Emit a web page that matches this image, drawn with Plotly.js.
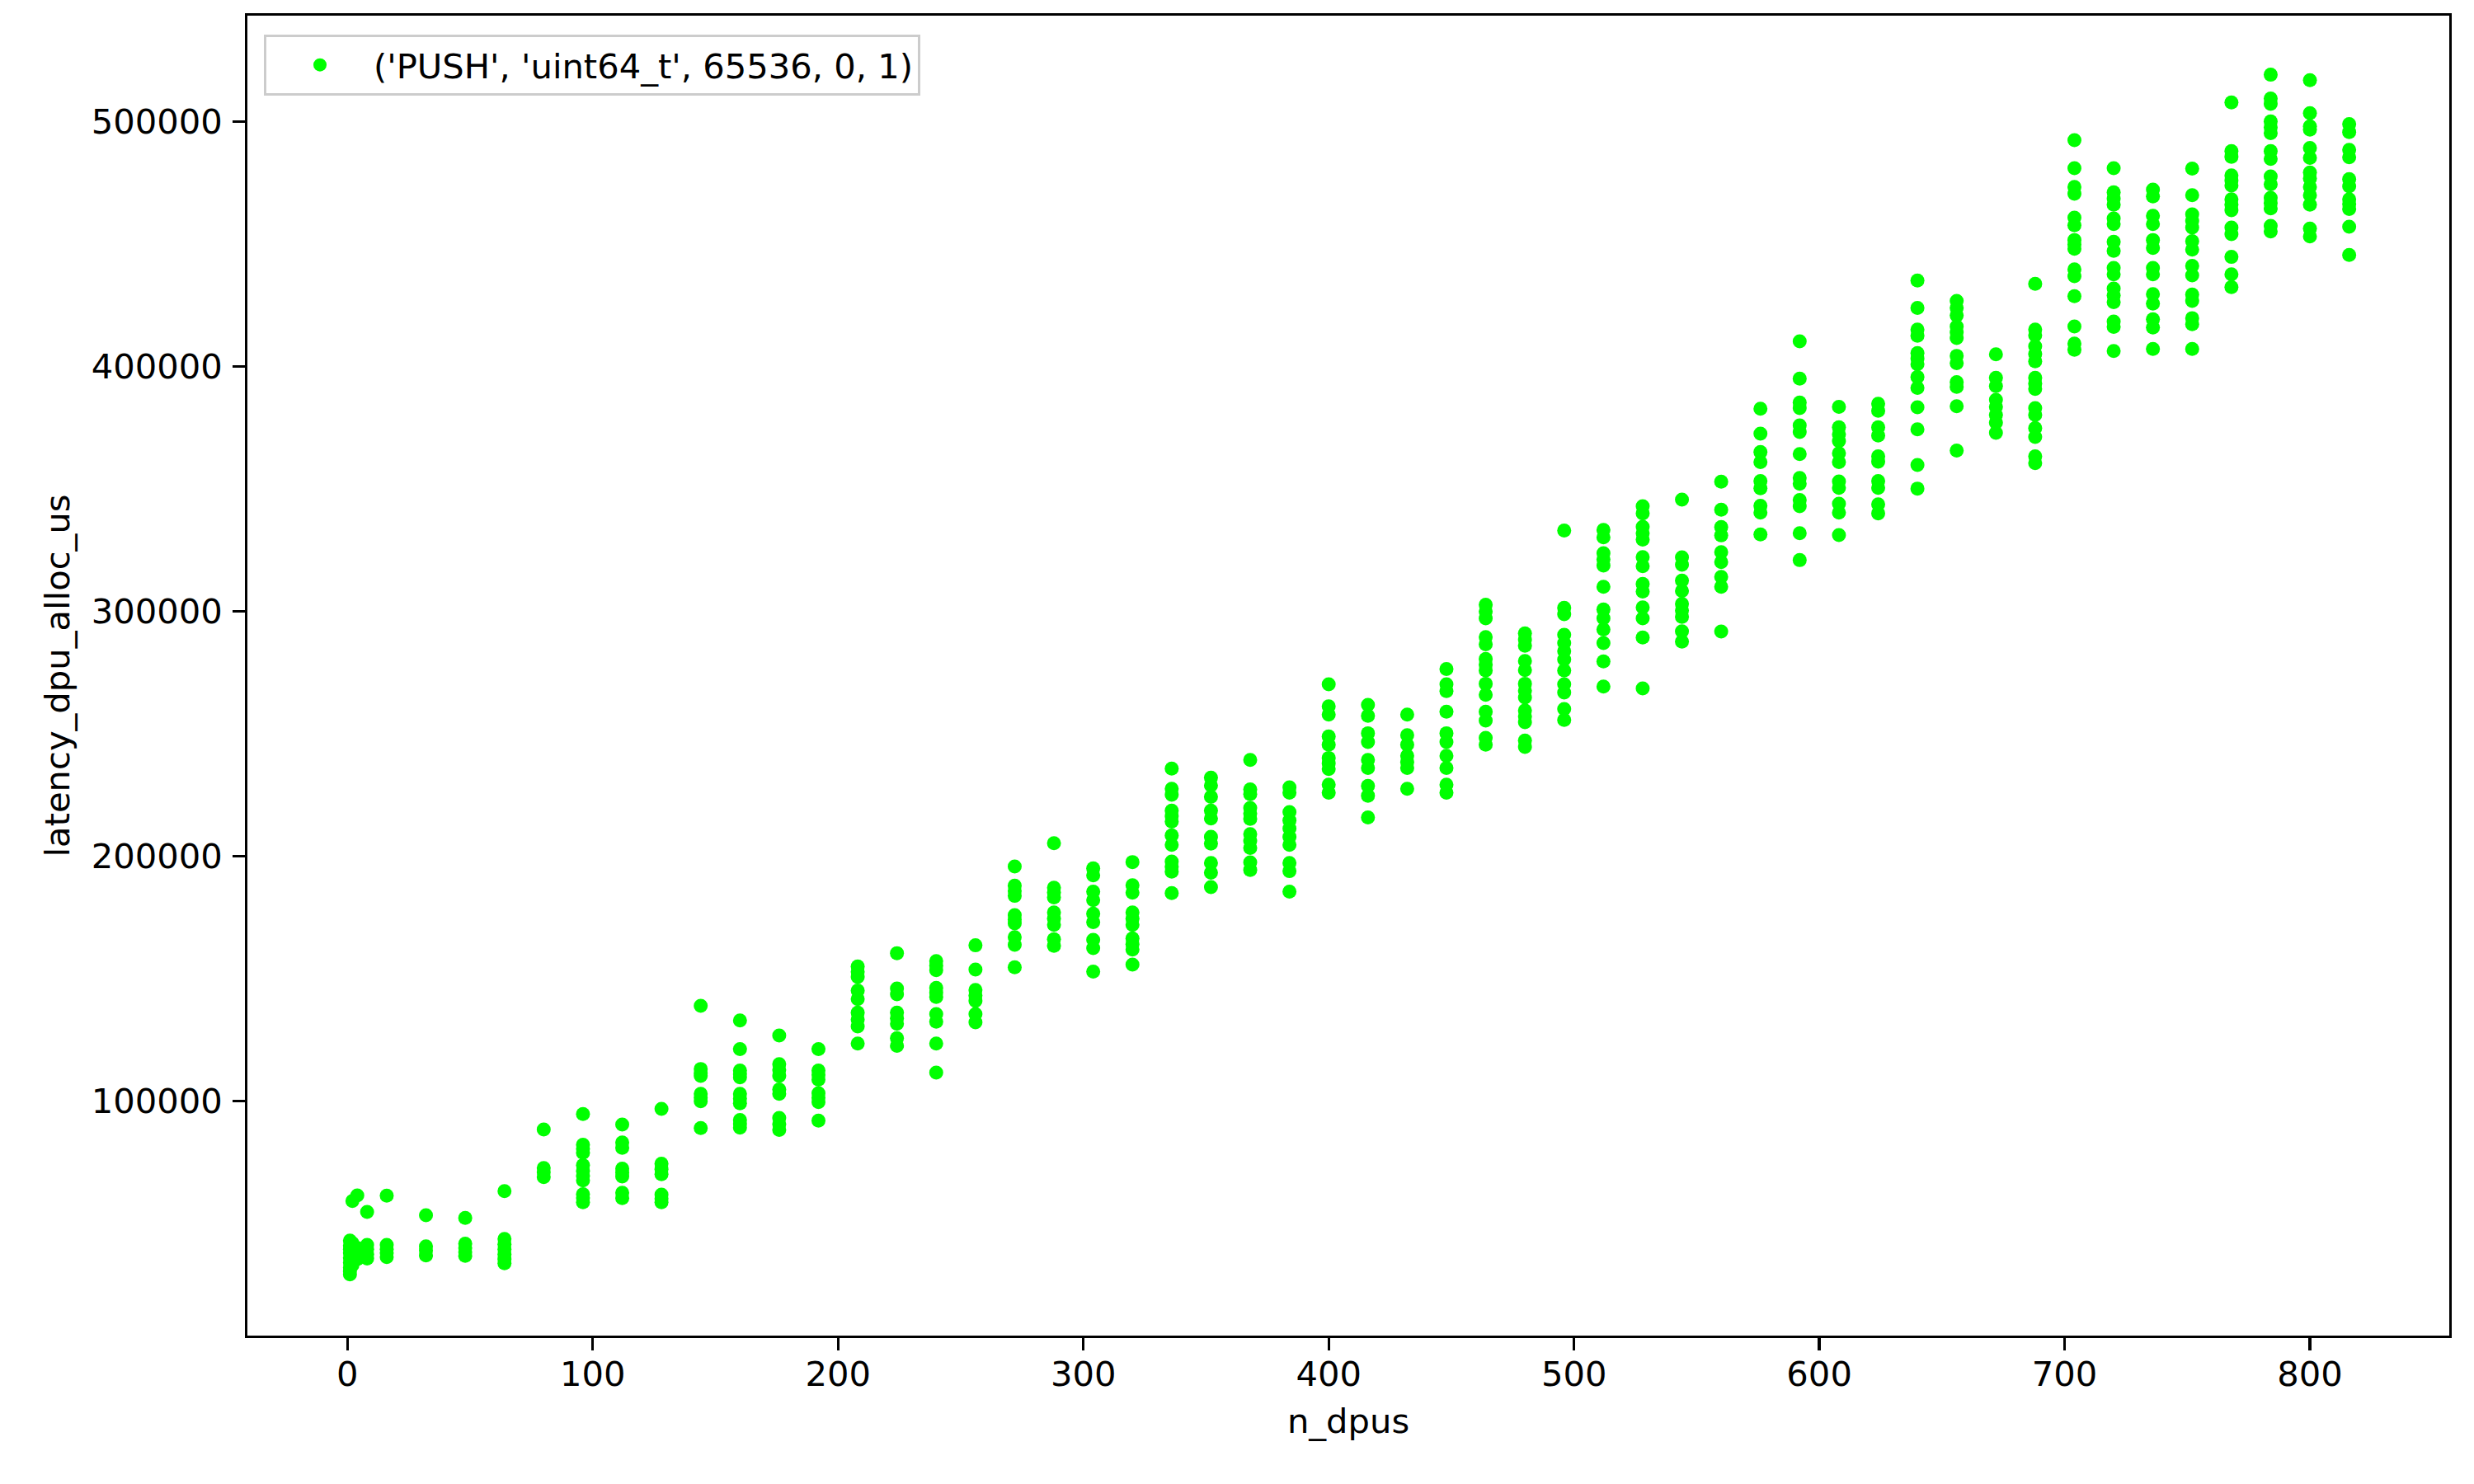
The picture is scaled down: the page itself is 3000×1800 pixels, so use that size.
<!DOCTYPE html>
<html>
<head>
<meta charset="utf-8">
<script src="https://cdn.plot.ly/plotly-3.0.1.min.js"></script>
<style>html,body{margin:0;padding:0;background:#fff;}#chart{width:3000px;height:1800px;}</style>
</head>
<body>
<div id="chart"></div>
<script>
// n_dpus categories (x values), one per column of points
const nDpus = [1, 2, 4, 8, 16, 32, 48, 64, 80, 96, 112, 128, 144, 160, 176, 192, 208, 224, 240, 256,
  272, 288, 304, 320, 336, 352, 368, 384, 400, 416, 432, 448, 464, 480, 496, 512, 528, 544, 560,
  576, 592, 608, 624, 640, 656, 672, 688, 704, 720, 736, 752, 768, 784, 800, 816];

const latencyUs = [
  [43000, 41000, 39500, 38000, 36000, 34000, 32000, 30500, 29200],
  [59200, 42000, 38500, 35000, 33000],
  [61500, 40000, 37000, 35500],
  [54700, 41300, 39500, 37500, 35700],
  [61400, 41300, 39500, 38000, 36300],
  [53400, 40700, 39000, 37000],
  [52300, 41800, 40000, 38300, 36800],
  [63200, 43700, 41500, 39500, 37500, 35500, 33800],
  [88400, 72700, 71000, 69000],
  [94700, 82200, 80500, 78900, 73800, 71500, 69500, 67600, 62000, 60500, 58700],
  [90400, 83100, 80900, 72400, 70800, 69200, 62600, 60400],
  [96800, 74400, 72200, 70100, 61800, 60200, 58700],
  [138900, 113100, 111500, 110300, 103000, 101400, 99900, 89000],
  [132900, 121200, 112500, 111000, 109700, 103000, 101000, 99100, 92300, 90800, 89200],
  [126800, 115100, 112700, 110300, 104700, 103000, 93100, 90600, 88200],
  [121200, 112500, 110700, 108800, 103200, 101400, 99600, 92000],
  [155000, 152800, 150700, 145100, 141700, 136100, 133300, 130500, 123500],
  [160400, 146000, 143600, 136100, 133800, 131600, 125700, 122600],
  [157200, 155300, 153500, 146200, 144300, 142500, 135500, 132400, 123500, 111600],
  [163600, 153700, 145400, 143100, 140900, 135500, 132200],
  [195800, 188000, 185800, 183800, 175900, 174200, 172600, 166900, 163800, 154600],
  [205300, 187100, 185200, 183200, 177000, 174500, 172000, 166100, 163400],
  [195000, 192200, 185500, 182100, 176500, 173100, 165800, 162500, 152900],
  [197600, 188100, 185100, 177000, 174500, 172000, 166400, 164100, 161900, 155700],
  [235800, 227500, 225100, 218600, 216300, 214100, 208500, 204600, 197800, 195700, 193700, 184900],
  [232100, 228900, 224200, 218600, 215400, 207900, 205100, 197200, 193300, 187400],
  [239300, 227300, 225300, 219700, 217400, 215200, 209000, 206200, 203400, 197500, 194400],
  [228100, 225900, 218000, 214600, 211300, 207900, 204600, 197200, 193900, 185500],
  [270200, 261200, 257800, 248900, 245500, 240100, 237900, 235600, 229200, 225900],
  [261800, 257300, 250200, 246600, 239300, 236000, 228700, 224700, 215800],
  [257800, 249400, 245500, 241000, 238500, 236000, 227500],
  [276400, 270200, 267400, 259000, 250200, 246600, 241000, 236000, 229200, 225900],
  [302700, 299900, 297100, 289500, 286500, 280500, 278200, 275800, 270400, 265900, 259000, 255400, 248300, 245500],
  [291000, 288400, 285900, 279700, 276000, 270400, 267600, 264800, 259500, 257100, 254700, 247200, 244600],
  [333000, 301400, 298800, 290400, 287000, 283700, 280300, 275800, 270200, 266800, 260100, 255600],
  [333200, 330200, 323700, 321200, 318700, 310000, 300700, 297100, 292600, 287000, 279500, 269300],
  [342900, 340000, 334500, 331900, 329300, 322100, 318400, 311200, 308100, 301600, 297100, 289300, 268500],
  [345600, 322000, 319000, 312500, 308300, 303000, 300300, 297700, 291800, 287600],
  [352900, 341500, 334400, 331000, 324100, 320100, 314000, 310000, 291700],
  [382700, 372500, 365000, 360900, 353200, 350200, 343100, 340300, 331400],
  [410200, 395000, 385200, 383000, 375900, 373200, 364200, 354400, 352100, 345400, 342900, 331900, 320900],
  [383500, 375100, 372300, 369500, 364500, 360900, 353000, 350400, 343900, 340300, 331100],
  [384700, 381900, 375100, 371800, 363300, 361100, 353200, 350400, 343700, 340000],
  [435100, 423900, 415000, 412500, 405400, 403200, 400900, 395700, 391200, 383300, 374300, 359700, 350100],
  [426700, 423900, 420800, 416300, 413900, 411600, 404300, 401300, 393600, 391600, 383700, 365600],
  [404900, 395300, 392000, 386300, 383500, 380200, 377000, 372900],
  [433700, 415000, 412700, 408200, 405100, 402100, 395300, 393000, 390800, 383000, 380200, 374800, 371200, 363300, 360500],
  [492400, 480900, 473300, 470500, 460700, 457600, 451600, 449800, 448000, 439600, 436800, 428700, 416300, 409300, 406800],
  [480900, 471100, 468500, 466000, 460400, 458100, 450900, 447200, 440200, 437600, 431800, 429000, 426200, 418300, 416100, 406300],
  [472200, 469400, 461500, 458100, 451600, 448400, 440200, 437600, 429500, 425600, 419200, 415900, 407100],
  [480800, 469900, 462100, 459400, 456700, 451100, 447700, 441000, 437200, 429300, 426700, 419700, 417200, 407100],
  [507800, 487900, 485600, 478000, 475900, 473900, 468200, 466000, 463800, 456700, 454000, 444700, 437600, 432400],
  [519100, 509400, 507200, 500000, 497600, 495200, 487900, 484700, 477600, 474400, 468800, 466700, 464500, 457400, 455100],
  [516900, 503400, 498000, 496700, 489200, 485100, 479200, 476700, 473300, 469900, 466000, 456300, 453100],
  [498900, 495700, 488400, 485400, 476500, 473500, 468200, 466300, 464300, 457000, 445500]
];

const seriesName = "('PUSH', 'uint64_t', 65536, 0, 1)";
const xTitle = "n_dpus";
const yTitle = "latency_dpu_alloc_us";

const xs = [], ys = [];
nDpus.forEach((n, i) => latencyUs[i].forEach(v => { xs.push(n); ys.push(v); }));

const FONT = 'DejaVu Sans, Verdana, sans-serif';
const FS = 41.67;

const trace = {
  type: 'scatter', mode: 'markers', x: xs, y: ys, name: seriesName,
  marker: {color: '#00ff00', size: 17, line: {width: 0}},
  showlegend: true
};

const axisCommon = {
  showgrid: false, zeroline: false, showline: true, mirror: true,
  linecolor: '#000', linewidth: 3.3,
  ticks: 'outside', ticklen: 14.6, tickwidth: 3.3, tickcolor: '#000',
  tickfont: {family: FONT, size: FS, color: '#000'}
};

const layout = {
  width: 3000, height: 1800,
  paper_bgcolor: '#fff', plot_bgcolor: '#fff',
  margin: {l: 300, r: 30, t: 19, b: 180, pad: 0},
  font: {family: FONT, size: FS, color: '#000'},
  xaxis: Object.assign({}, axisCommon, {
    range: [-40.8, 856.8], tickmode: 'linear', tick0: 0, dtick: 100,
    ticklabelstandoff: -7,
    title: {text: xTitle, font: {family: FONT, size: FS, color: '#000'}, standoff: 20}
  }),
  yaxis: Object.assign({}, axisCommon, {
    range: [4240, 543210], tickmode: 'linear', tick0: 0, dtick: 100000,
    tickformat: 'd', ticklabelstandoff: 4,
    title: {text: yTitle, font: {family: FONT, size: FS, color: '#000'}, standoff: 14}
  }),
  showlegend: true,
  legend: {
    x: 0.0075, y: 0.9856, xanchor: 'left', yanchor: 'top',
    bgcolor: 'rgba(255,255,255,0.8)', bordercolor: '#cccccc', borderwidth: 3,
    font: {family: FONT, size: FS, color: '#000'},
    itemsizing: 'trace', itemwidth: 120
  }
};

Plotly.newPlot('chart', [trace], layout, {staticPlot: true, displayModeBar: false});
</script>
</body>
</html>
